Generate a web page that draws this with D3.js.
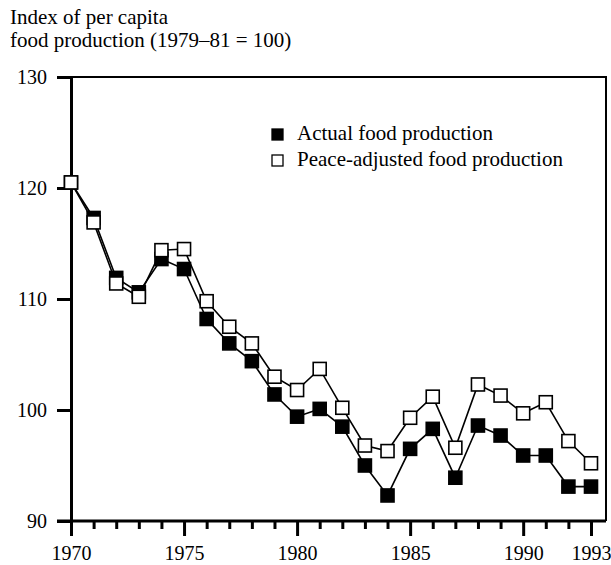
<!DOCTYPE html>
<html>
<head>
<meta charset="utf-8">
<script src="https://cdn.jsdelivr.net/npm/d3@7"></script>
<style>
  body { margin: 0; background: #fff; }
  svg text { font-family: "Liberation Serif", "Times New Roman", serif; fill: #000; }
</style>
</head>
<body>
<div id="chart"></div>
<script>
const width = 611;
const height = 565;

const years = d3.range(1970, 1994);
const actualValues = [120.5, 117.3, 111.9, 110.6, 113.6, 112.7, 108.2, 106.0, 104.4, 101.4, 99.4, 100.1,
    98.5, 95.0, 92.3, 96.5, 98.3, 93.9, 98.6, 97.7, 95.9, 95.9, 93.1, 93.1];
const peaceValues = [120.5, 116.9, 111.4, 110.2, 114.4, 114.5, 109.8, 107.5, 106.0, 103.0, 101.8, 103.7,
    100.2, 96.8, 96.3, 99.3, 101.2, 96.6, 102.3, 101.3, 99.7, 100.7, 97.2, 95.2];
const yTicks = [90, 100, 110, 120, 130];
const xLabels = [1970, 1975, 1980, 1985, 1990, 1993];
const titleLines = ["Index of per capita", "food production (1979\u201381 = 100)"];
const legendLabels = ["Actual food production", "Peace-adjusted food production"];

const margin = { left: 71, right: 5, top: 77, bottom: 44 };
const plotRight = width - margin.right;
const plotBottom = height - margin.bottom;

const svg = d3.select("#chart").append("svg")
    .attr("width", width)
    .attr("height", height);

// scales
const x = d3.scaleLinear().domain([1970, 1993]).range([margin.left, 591]);
const y = d3.scaleLinear().domain([90, 130]).range([plotBottom, margin.top]);

// title
svg.append("g").selectAll("text")
    .data(titleLines)
    .join("text")
    .attr("x", 10)
    .attr("y", (d, i) => 24 + i * 23)
    .style("font-size", "21px")
    .text(d => d);

// frame (top and right)
svg.append("path")
    .attr("d", `M${margin.left},${margin.top}H${plotRight}V${plotBottom}`)
    .attr("fill", "none")
    .attr("stroke", "#000")
    .attr("stroke-width", 2);

// y axis
const yAxis = svg.append("g")
    .attr("transform", `translate(${margin.left},0)`)
    .call(d3.axisLeft(y).tickValues(yTicks).tickSize(14).tickPadding(10).tickFormat(d3.format("d")));
yAxis.select(".domain").attr("stroke-width", 3);
yAxis.selectAll(".tick line").attr("stroke-width", 3);
yAxis.selectAll(".tick text").style("font-size", "20px").attr("font-family", null);

// x axis: a tick every year, longer at labelled years
const xAxis = svg.append("g")
    .attr("transform", `translate(0,${plotBottom})`)
    .call(d3.axisBottom(x).tickValues(years).tickSizeOuter(0).tickSize(8).tickPadding(12)
        .tickFormat(d => xLabels.includes(d) ? d : ""));
xAxis.select(".domain").attr("d", `M${margin.left - 14},0H${plotRight}`).attr("stroke-width", 3);
xAxis.selectAll(".tick line")
    .attr("stroke-width", 3)
    .attr("y2", d => xLabels.includes(d) ? 15 : 8);
xAxis.selectAll(".tick text").style("font-size", "20px").attr("font-family", null).attr("dy", "0.95em");

// lines and markers
const line = d3.line()
    .x((d, i) => x(years[i]))
    .y(d => y(d));

const markerSize = 13;

function drawSeries(values, fill) {
    svg.append("path")
        .datum(values)
        .attr("d", line)
        .attr("fill", "none")
        .attr("stroke", "#000")
        .attr("stroke-width", 1.6);
    svg.append("g").selectAll("rect")
        .data(values)
        .join("rect")
        .attr("x", (d, i) => x(years[i]) - markerSize / 2)
        .attr("y", d => y(d) - markerSize / 2)
        .attr("width", markerSize)
        .attr("height", markerSize)
        .attr("fill", fill)
        .attr("stroke", "#000")
        .attr("stroke-width", 1.6);
}

drawSeries(actualValues, "#000");
drawSeries(peaceValues, "#fff");

// legend
const legend = svg.append("g").attr("transform", "translate(272,129)");
legend.selectAll("rect")
    .data(legendLabels)
    .join("rect")
    .attr("x", 0)
    .attr("y", (d, i) => i * 26)
    .attr("width", 11)
    .attr("height", 11)
    .attr("fill", (d, i) => i === 0 ? "#000" : "#fff")
    .attr("stroke", "#000")
    .attr("stroke-width", 1.3);
legend.selectAll("text")
    .data(legendLabels)
    .join("text")
    .attr("x", 25)
    .attr("y", (d, i) => i * 26 + 11)
    .style("font-size", "21px")
    .text(d => d);
</script>
</body>
</html>
